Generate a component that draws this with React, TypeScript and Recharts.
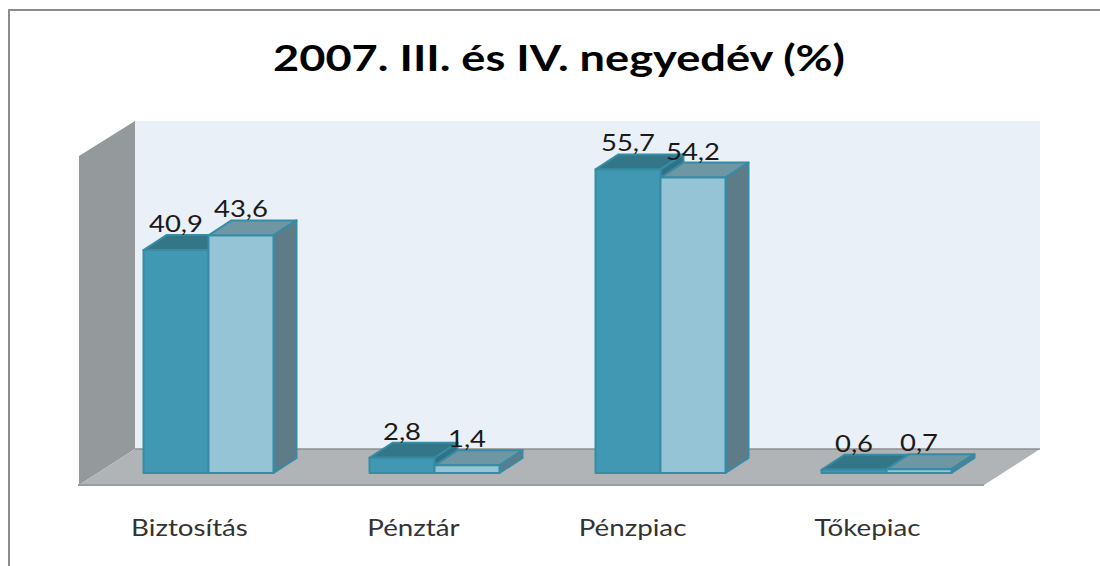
import React from 'react';
import { BarChart, Bar, XAxis, YAxis, LabelList, Customized } from 'recharts';

const categories = ['Biztosítás', 'Pénztár', 'Pénzpiac', 'Tőkepiac'];
const q3Values = [40.9, 2.8, 55.7, 0.6];
const q4Values = [43.6, 1.4, 54.2, 0.7];

const chartData = categories.map((name, i) => ({ name, q3: q3Values[i], q4: q4Values[i] }));

const WIDTH = 1100;
const HEIGHT = 566;
const FONT = 'Lato, "Open Sans", sans-serif';

// 3d depth of a bar
const DEPTH_X = 23;
const DEPTH_Y = 15;

// category labels sit left of their bars, and not all by the same amount
const tickShift = [-19, -21, -28, -19];

const q3Colors = { front: '#4198B2', top: '#337688', side: '#2F7285', stroke: '#378BA4' };
const q4Colors = { front: '#95C4D6', top: '#6E96A3', side: '#5E7C88', stroke: '#378BA4' };

const poly = (pts: number[][]) => pts.map((p) => p.join(',')).join(' ');

const Box3D = (props: any) => {
  const { x, y, width, height, colors } = props;
  const r = x + width;
  const b = y + height;
  return (
    <g stroke={colors.stroke} strokeWidth={2} strokeLinejoin="round">
      <polygon fill={colors.top} points={poly([[x, y], [x + DEPTH_X, y - DEPTH_Y], [r + DEPTH_X, y - DEPTH_Y], [r, y]])} />
      <polygon fill={colors.side} points={poly([[r, y], [r + DEPTH_X, y - DEPTH_Y], [r + DEPTH_X, b - DEPTH_Y], [r, b]])} />
      <rect x={x} y={y} width={width} height={height} fill={colors.front} />
    </g>
  );
};

// walls, floor and title sit behind the bars
const Backdrop = () => (
  <g>
    <polygon fill="#E9F0F7" points={poly([[135, 121], [1040, 121], [1040, 449], [135, 449]])} />
    <polygon fill="#94999B" points={poly([[79, 156], [135, 121], [135, 449], [79, 485]])} />
    <polygon fill="#B0B4B7" points={poly([[79, 485], [135, 449], [1040, 449], [984, 485]])} />
    <line x1={135} y1={449} x2={1040} y2={449} stroke="#8E9193" strokeWidth={1.5} />
    <line x1={78} y1={485} x2={984} y2={485} stroke="#9A9C9E" strokeWidth={2} />
    <text x={559} y={71} textAnchor="middle" fontFamily={FONT} fontWeight={700} fontSize={36} fill="#000" textLength={572} lengthAdjust="spacingAndGlyphs">
      2007. III. és IV. negyedév (%)
    </text>
  </g>
);

const ValueLabel = (props: any) => {
  const { x, y, width, value } = props;
  const label = String(value).replace('.', ',');
  return (
    <text x={x + width / 2} y={y - 18} textAnchor="middle" fontFamily={FONT} fontSize={23} fill="#1a1a1a" textLength={label.length > 3 ? 54 : 38} lengthAdjust="spacingAndGlyphs">
      {label}
    </text>
  );
};

const CategoryTick = (props: any) => {
  const { x, y, payload, index } = props;
  const cx = x + tickShift[index];
  const by = y + 55;
  return (
    <text transform={`translate(${cx} ${by}) scale(1.18 1)`} textAnchor="middle" fontFamily={FONT} fontSize={23.5} fill="#333">
      {payload.value}
    </text>
  );
};

export default function App() {
  return (
    <div style={{ position: 'absolute', left: 0, top: 0, width: WIDTH, height: HEIGHT, background: '#fff', overflow: 'hidden' }}>
      <div style={{ position: 'absolute', left: 8, top: 9, width: 1200, height: 600, border: '2px solid #8C8C8C' }} />
      <div style={{ position: 'absolute', left: 0, top: 0 }}>
        <BarChart
          width={WIDTH}
          height={HEIGHT}
          data={chartData}
          margin={{ left: 95.5, right: 100.5, top: 146, bottom: 0 }}
          barSize={65}
          barGap={0}
        >
          <Customized component={Backdrop} />
          <XAxis dataKey="name" height={93} axisLine={false} tickLine={false} tick={<CategoryTick />} interval={0} />
          <YAxis hide domain={[0, 60]} />
          <Bar dataKey="q3" isAnimationActive={false} shape={(p: any) => <Box3D {...p} colors={q3Colors} />}>
            <LabelList dataKey="q3" content={<ValueLabel />} />
          </Bar>
          <Bar dataKey="q4" isAnimationActive={false} shape={(p: any) => <Box3D {...p} colors={q4Colors} />}>
            <LabelList dataKey="q4" content={<ValueLabel />} />
          </Bar>
        </BarChart>
      </div>
    </div>
  );
}
